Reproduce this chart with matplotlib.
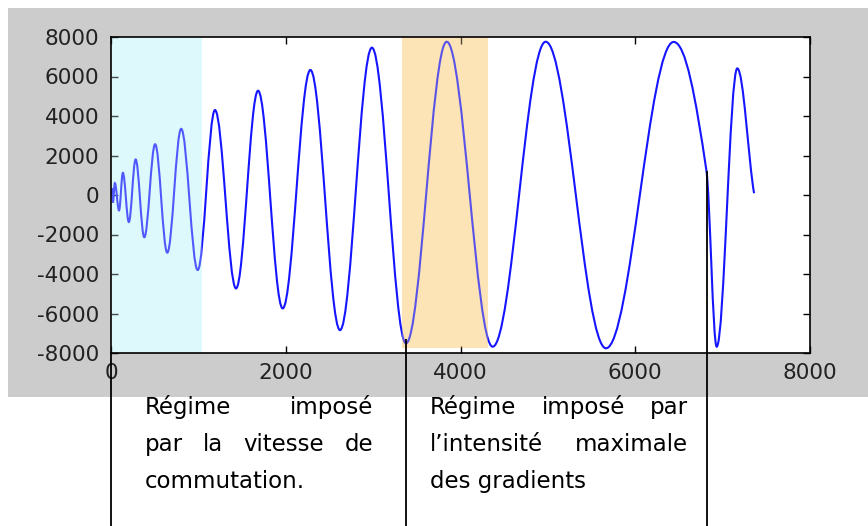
import matplotlib.pyplot as plt
from matplotlib.path import Path
from matplotlib.patches import PathPatch, Rectangle

plt.rcParams['axes.unicode_minus'] = False

# ---------------------------------
# Waveform: turning points
# (slope is 0 at peaks/troughs, given where the trace is cut mid-swing)
# ---------------------------------
wave_x = [0, 10, 22, 44, 92, 136, 204, 282, 381, 505, 644, 803, 992,
          1190, 1431, 1683, 1965, 2282, 2621, 2986, 3376, 3842, 4368,
          4975, 5665, 6440, 6815, 6932, 7168, 7360]
wave_y = [0, 350, -380, 600, -780, 1120, -1370, 1800, -2140, 2570, -2920,
          3350, -3800, 4300, -4730, 5280, -5740, 6330, -6840, 7460, -7510,
          7760, -7680, 7760, -7760, 7750, 1220, -7680, 6410, 90]
wave_slope = [0, 0, 0, 0, 0, 0, 0, 0, 0, 0, 0, 0, 0, 0, 0, 0, 0, 0, 0, 0,
              0, 0, 0, 0, 0, 0, -30, 0, 0, -25]

# shaded regimes (x ranges) and their colours
zones = [(0, 1038, -8000, 8000), (3327, 4311, -7740, 8000)]
zone_colors = ['#def9fb', '#fce4b6']

# vertical separators going down into the captions
guide_x = [0, 3376, 6818]
guide_top = [-8000, -7300, 1200]

xticks = [0, 2000, 4000, 6000, 8000]
yticks = [-8000, -6000, -4000, -2000, 0, 2000, 4000, 6000, 8000]

caption_left = ["Régime imposé", "par la vitesse de", "commutation."]
caption_right = ["Régime imposé par", "l’intensité maximale", "des gradients"]

W, H = 868, 526
fig = plt.figure(figsize=(W / 100, H / 100), dpi=100, facecolor='white')

# grey figure band
fig.patches.append(Rectangle((8 / W, 1 - 397 / H), 1 - 8 / W, (397 - 8) / H,
                             transform=fig.transFigure, facecolor='#cccccc',
                             edgecolor='none', zorder=-5))

ax = fig.add_axes([111 / W, 1 - 353 / H, 699 / W, 316 / H])
ax.set_facecolor('white')

# -------------------------
# Curve (Bezier pieces between the read points)
# -------------------------
K = 0.364
verts = [(wave_x[0], wave_y[0])]
codes = [Path.MOVETO]
for i in range(len(wave_x) - 1):
    dx = wave_x[i + 1] - wave_x[i]
    h0 = K if wave_slope[i] == 0 else 1 / 3
    h1 = K if wave_slope[i + 1] == 0 else 1 / 3
    verts.append((wave_x[i] + h0 * dx, wave_y[i] + wave_slope[i] * h0 * dx))
    verts.append((wave_x[i + 1] - h1 * dx,
                  wave_y[i + 1] - wave_slope[i + 1] * h1 * dx))
    verts.append((wave_x[i + 1], wave_y[i + 1]))
    codes += [Path.CURVE4] * 3
ax.add_patch(PathPatch(Path(verts, codes), fill=False, edgecolor='#1515ff',
                       linewidth=1.5, zorder=2))

# shading: solid underneath, thin veil on top so the trace looks washed out
for (x0, x1, y0, y1), c in zip(zones, zone_colors):
    ax.add_patch(Rectangle((x0, y0), x1 - x0, y1 - y0, facecolor=c,
                           edgecolor='none', zorder=1))
    ax.add_patch(Rectangle((x0, y0), x1 - x0, y1 - y0, facecolor=c,
                           edgecolor='none', alpha=0.3, zorder=3))

ax.set_xlim(0, 8000)
ax.set_ylim(-8000, 8000)
ax.set_xticks(xticks)
ax.set_yticks(yticks)
ax.tick_params(direction='in', length=5, width=1, top=True, right=True,
               labelsize=15.5, labelcolor='#222222')
ax.tick_params(axis='y', pad=8.5)
ax.tick_params(axis='x', pad=7)
for lab in ax.get_xticklabels() + ax.get_yticklabels():
    lab.set_family('DejaVu Sans')
for sp in ax.spines.values():
    sp.set_linewidth(1.2)
    sp.set_zorder(4)

ax.vlines(guide_x, -18000, guide_top, colors='black', linewidth=1.3,
          clip_on=False, zorder=10)

# -------------------------
# Captions (justified like the source document)
# -------------------------
renderer = fig.canvas.get_renderer()
FS = 16.5


def put_line(text, left, right, base, justify):
    y = 1 - base / H
    if not justify:
        fig.text(left / W, y, text, fontsize=FS, va='baseline',
                 family='DejaVu Sans')
        return
    words = text.split()
    objs = [fig.text(0, y, w, fontsize=FS, va='baseline',
                     family='DejaVu Sans') for w in words]
    widths = [o.get_window_extent(renderer).width for o in objs]
    gap = (right - left - sum(widths)) / (len(words) - 1)
    x = left
    for o, w in zip(objs, widths):
        o.set_x(x / W)
        x += w + gap


baselines = [414, 451, 488]
for i, line in enumerate(caption_left):
    put_line(line, 145, 373, baselines[i], i < 2)
for i, line in enumerate(caption_right):
    put_line(line, 430, 688, baselines[i], i < 2)

fig.savefig('out.png', dpi=100, facecolor='white')
